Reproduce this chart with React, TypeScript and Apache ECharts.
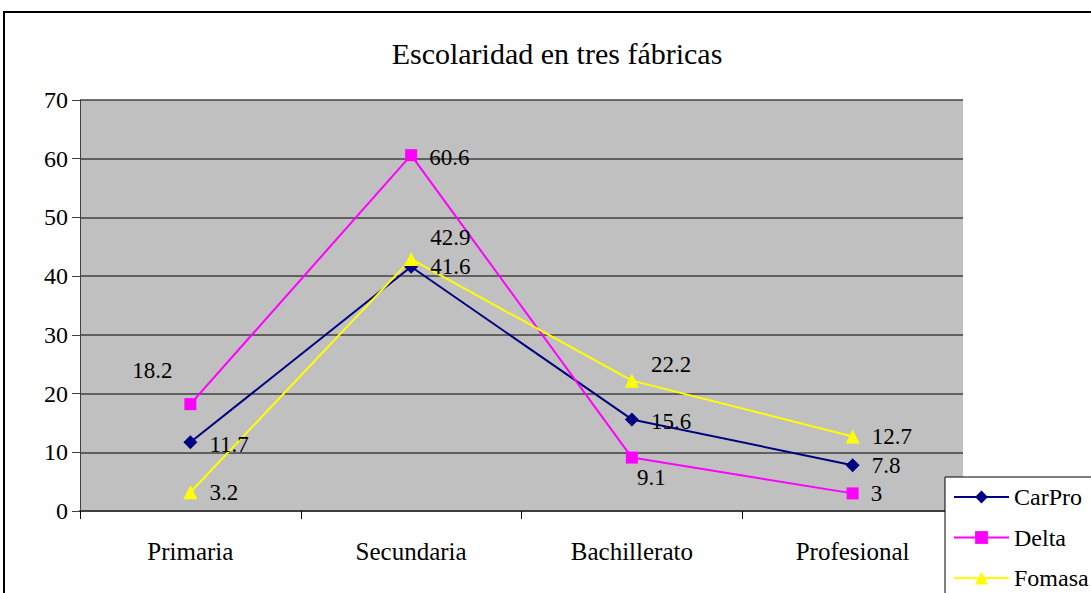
import React, { useEffect, useRef } from "react";
import * as echarts from "echarts";

const categories = ["Primaria", "Secundaria", "Bachillerato", "Profesional"];
const carPro = [11.7, 41.6, 15.6, 7.8];
const delta = [18.2, 60.6, 9.1, 3];
const fomasa = [3.2, 42.9, 22.2, 12.7];
const yTicks = { min: 0, max: 70, interval: 10 };

const FONT = "'Liberation Serif', 'Times New Roman', serif";

export default function App() {
  const ref = useRef<HTMLDivElement>(null);
  useEffect(() => {
    document.body.style.margin = "0";
    const chart = echarts.init(ref.current!, null, { renderer: "svg" });
    const lbl = { show: true, position: "right", distance: 12, color: "#000", fontFamily: FONT, fontSize: 23 };
    const withOffsets = (vals: number[], offs: any[]) =>
      vals.map((v, i) => (offs[i] ? { value: v, label: offs[i] } : v));
    chart.setOption({
      animation: false,
      backgroundColor: "#fff",
      textStyle: { fontFamily: FONT },
      title: {
        text: "Escolaridad en tres fábricas",
        left: 552,
        textAlign: "center",
        top: 33,
        textStyle: { fontFamily: FONT, fontSize: 30, fontWeight: "normal", color: "#000" },
      },
      grid: { left: 80, right: 128, top: 100, bottom: 82, show: true, backgroundColor: "#C0C0C0", borderWidth: 0 },
      xAxis: {
        type: "category",
        data: categories,
        boundaryGap: true,
        axisLine: { lineStyle: { color: "#404040", width: 2 } },
        axisTick: { show: true, length: 8, lineStyle: { color: "#000", width: 1 } },
        axisLabel: { margin: 28, color: "#000", fontFamily: FONT, fontSize: 25 },
      },
      yAxis: {
        type: "value",
        min: yTicks.min,
        max: yTicks.max,
        interval: yTicks.interval,
        axisLine: { show: true, lineStyle: { color: "#404040", width: 1 } },
        axisTick: { show: true, length: 8, lineStyle: { color: "#404040" } },
        splitLine: { show: true, lineStyle: { color: "#404040", width: 1.5 } },
        axisLabel: { margin: 12, color: "#000", fontFamily: FONT, fontSize: 24 },
      },
      legend: {
        orient: "vertical",
        left: 953,
        top: 485,
        height: 140,
        padding: 0,
        itemWidth: 55,
        itemHeight: 16,
        itemGap: 16.5,
        z: 10,
        textStyle: { fontFamily: FONT, fontSize: 24, color: "#000", lineHeight: 16 },
        data: ["CarPro", "Delta", "Fomasa"],
      },
      graphic: [
        { type: "rect", z: 5, shape: { x: 945, y: 477, width: 200, height: 200 }, style: { fill: "#fff", stroke: "#000", lineWidth: 1 } },
        { type: "rect", z: 6, shape: { x: 4, y: 12, width: 1200, height: 700 }, style: { fill: "none", stroke: "#000", lineWidth: 2 } },
      ],
      series: [
        {
          name: "CarPro",
          type: "line",
          data: withOffsets(carPro, [{ offset: [0, 2] }, null, { offset: [0, 2] }, null]),
          color: "#000080",
          lineStyle: { width: 2, color: "#000080" },
          symbol: "diamond",
          symbolSize: 14,
          itemStyle: { color: "#000080" },
          label: lbl,
        },
        {
          name: "Delta",
          type: "line",
          data: withOffsets(delta, [
            { position: "left", offset: [0, -34] },
            { offset: [0, 2] },
            { offset: [-13, 20] },
            null,
          ]),
          color: "#FF00FF",
          lineStyle: { width: 2, color: "#FF00FF" },
          symbol: "rect",
          symbolSize: 12,
          itemStyle: { color: "#FF00FF" },
          label: lbl,
        },
        {
          name: "Fomasa",
          type: "line",
          data: withOffsets(fomasa, [null, { offset: [0, -22] }, { offset: [0, -16] }, null]),
          color: "#FFFF00",
          lineStyle: { width: 2, color: "#FFFF00" },
          symbol: "triangle",
          symbolSize: 14,
          itemStyle: { color: "#FFFF00" },
          label: lbl,
        },
      ],
    });
    return () => chart.dispose();
  }, []);
  return <div ref={ref} style={{ width: 1091, height: 593 }} />;
}
